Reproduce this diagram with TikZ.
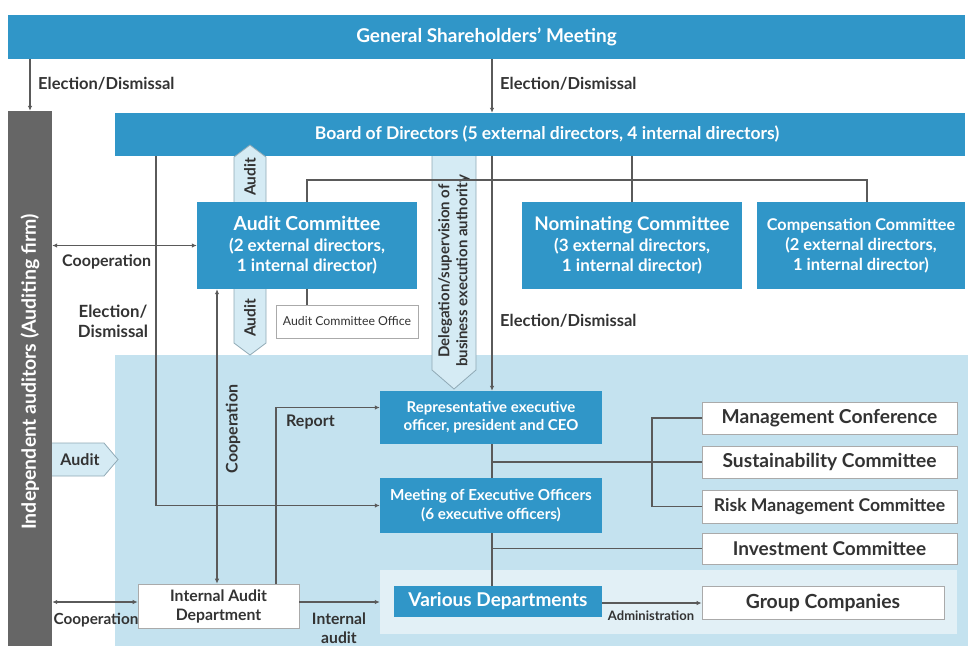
\documentclass[tikz,border=0pt]{standalone}
\usepackage{fontspec}
\setmainfont{Lato}
\usetikzlibrary{arrows.meta}
\definecolor{mainblue}{HTML}{3096C8}
\definecolor{lightreg}{HTML}{C4E2EF}
\definecolor{innerreg}{HTML}{E2F0F6}
\definecolor{pentfill}{HTML}{D5EBF4}
\definecolor{pentdraw}{HTML}{8FA9B5}
\definecolor{audgray}{HTML}{666666}
\definecolor{linegray}{HTML}{5A5A5A}
\definecolor{txtdark}{HTML}{333333}
\definecolor{wbord}{HTML}{AAAAAA}
\newcommand{\fsz}[1]{\fontsize{#1pt}{1.2\dimexpr #1pt\relax}\selectfont}
\tikzset{
  bluebox/.style={fill=mainblue, text=white, font=\bfseries, align=center, inner sep=0pt},
  whitebox/.style={fill=white, draw=wbord, line width=0.8pt, text=txtdark, font=\bfseries, align=center, inner sep=0pt},
  conn/.style={draw=linegray, line width=1.1pt},
  arr/.style={conn, -{Latex[length=5pt,width=4.5pt]}},
  darr/.style={conn, {Latex[length=5pt,width=4.5pt]}-{Latex[length=5pt,width=4.5pt]}},
  lbl/.style={text=txtdark, font=\bfseries, inner sep=0pt, align=center},
  pent/.style={fill=pentfill, draw=pentdraw, line width=0.8pt},
}
\begin{document}
\begin{tikzpicture}[x=1pt,y=-1pt]
\useasboundingbox (0,0) rectangle (968,646);
% background regions
\fill[lightreg] (115,355) rectangle (968,646);
\node[fill=innerreg, minimum width=577pt, minimum height=64pt, inner sep=0pt] (inner) at (668.5,602) {};

% top bars
\node[bluebox, minimum width=957pt, minimum height=44pt, font=\bfseries\fsz{19}] (gsm) at (486.5,37) {General Shareholders' Meeting};
\node[fill=audgray, minimum width=44pt, minimum height=535pt, inner sep=0pt] (aud) at (30,378.5) {};
\node[text=white, font=\bfseries\fsz{19.5}, rotate=90, inner sep=0pt] (audtxt) at (30,372) {Independent auditors (Auditing firm)};
\node[bluebox, minimum width=850pt, minimum height=43pt] (board) at (540,134.5) {};
\node[text=white, font=\bfseries\fsz{17.5}, inner sep=0pt] (boardtxt) at (547,134.5) {Board of Directors (5 external directors, 4 internal directors)};

% pentagon arrows
\draw[pent] (234,202) -- (234,157) -- (250,145) -- (266,157) -- (266,202);
\node[lbl, rotate=90, font=\bfseries\fsz{15.5}] (audup) at (250,177) {Audit};
\draw[pent] (234,289) -- (234,343) -- (250,355) -- (266,343) -- (266,289);
\node[lbl, rotate=90, font=\bfseries\fsz{15.5}] (auddown) at (250,318) {Audit};
\draw[pent] (432,156) -- (432,370) -- (454,389) -- (476,370) -- (476,156);
\node[lbl, rotate=90, font=\bfseries\fsz{15}, align=center] (deleg) at (454,271) {Delegation/supervision of\\business execution authority};
\draw[pent] (52,443) -- (104,443) -- (118,459.5) -- (104,476) -- (52,476);
\node[lbl, font=\bfseries\fsz{16}] (audright) at (80,460) {Audit};

% committees
\node[bluebox, minimum width=220pt, minimum height=87pt, font=\bfseries\fsz{17}] (ac) at (307,245.5) {{\fsz{19.3}Audit Committee}\\(2 external directors,\\1 internal director)};
\node[bluebox, minimum width=220pt, minimum height=87pt, font=\bfseries\fsz{17}] (nc) at (632,245.5) {{\fsz{18.8}Nominating Committee}\\(3 external directors,\\1 internal director)};
\node[bluebox, minimum width=208pt, minimum height=87pt, font=\bfseries\fsz{16.5}] (cc) at (861,245.5) {{\fsz{16.2}Compensation Committee}\\(2 external directors,\\1 internal director)};
\node[whitebox, minimum width=142pt, minimum height=33pt, font=\fsz{12.3}] (aco) at (347,321.5) {Audit Committee Office};

% execution
\node[bluebox, minimum width=222pt, minimum height=53pt, font=\bfseries\fsz{15}] (rep) at (491,417.5) {Representative executive\\officer, president and CEO};
\node[bluebox, minimum width=222pt, minimum height=55pt, font=\bfseries\fsz{15.2}] (meo) at (491,505.5) {Meeting of Executive Officers\\(6 executive officers)};
\node[bluebox, minimum width=208pt, minimum height=31pt, font=\bfseries\fsz{19}] (vd) at (498,601.5) {Various Departments};
\node[whitebox, minimum width=255pt, minimum height=32pt, font=\bfseries\fsz{19.2}] (mc) at (829.5,418) {Management Conference};
\node[whitebox, minimum width=255pt, minimum height=32pt, font=\bfseries\fsz{19.2}] (sc) at (829.5,462) {Sustainability Committee};
\node[whitebox, minimum width=255pt, minimum height=33pt, font=\bfseries\fsz{17.6}] (rmc) at (829.5,506.5) {Risk Management Committee};
\node[whitebox, minimum width=255pt, minimum height=31pt, font=\bfseries\fsz{19}] (ic) at (829.5,548.5) {Investment Committee};
\node[whitebox, minimum width=242pt, minimum height=33pt, font=\bfseries\fsz{19.4}] (gc) at (823,602.5) {Group Companies};
\node[whitebox, minimum width=161pt, minimum height=44pt, font=\bfseries\fsz{15.8}, line width=0.6pt] (iad) at (218.5,606) {Internal Audit\\Department};

% connectors
\draw[arr] (30,0 |- gsm.south) -- (30,0 |- aud.north);
\draw[arr] (492,0 |- gsm.south) -- (492,0 |- board.north);
\draw[conn] (632,0 |- board.south) -- (nc.north);
\draw[conn] (ac.north) -- (307,180) -- (867,180) -- (867,0 |- cc.north);
\draw[arr] (156,0 |- board.south) |- (meo.west);
\draw[arr] (492,0 |- board.south) -- (492,0 |- rep.north);
\draw[darr] (aud.east |- ac.west) -- (ac.west);
\draw[conn] (307,0 |- ac.south) -- (307,0 |- aco.north);
\draw[darr] (217,0 |- iad.north) -- (217,0 |- ac.south);
\draw[arr] (276,0 |- iad.north) |- ([yshift=10pt]rep.west);
\draw[conn] (492,0 |- rep.south) -- (492,0 |- meo.north);
\draw[conn] (492,0 |- meo.south) -- (492,0 |- vd.north);
\draw[conn] (492,0 |- sc.west) -- (sc.west);
\draw[conn] (mc.west) -- (652,0 |- mc.west) -- (652,0 |- rmc.west) -- (rmc.west);
\draw[conn] (492,0 |- ic.west) -- (ic.west);
\draw[darr] (aud.east |- 0,602) -- (iad.west |- 0,602);
\draw[arr] (iad.east |- 0,602) -- (inner.west |- 0,602);
\draw[arr] (vd.east |- 0,603) -- (gc.west |- 0,603);

% labels
\node[lbl, anchor=west, font=\bfseries\fsz{16.5}] (l1) at (38,84) {Election/Dismissal};
\node[lbl, anchor=west, font=\bfseries\fsz{16.5}] (l2) at (500,84) {Election/Dismissal};
\node[lbl, anchor=west, font=\bfseries\fsz{16}] (l3) at (62,262) {Cooperation};
\node[lbl, font=\bfseries\fsz{16.8}] (l4) at (113,321) {Election/\\Dismissal};
\node[lbl, anchor=west, font=\bfseries\fsz{16.5}] (l5) at (500,321) {Election/Dismissal};
\node[lbl, rotate=90, font=\bfseries\fsz{16}] (l6) at (233,429) {Cooperation};
\node[lbl, anchor=west, font=\bfseries\fsz{16}] (l7) at (286,422) {Report};
\node[lbl, font=\bfseries\fsz{15.3}] (l8) at (96,620) {Cooperation};
\node[lbl, font=\bfseries\fsz{15.7}] (l9) at (339,628) {Internal\\audit};
\node[lbl, font=\bfseries\fsz{13}] (l10) at (651,616) {Administration};
\end{tikzpicture}
\end{document}
